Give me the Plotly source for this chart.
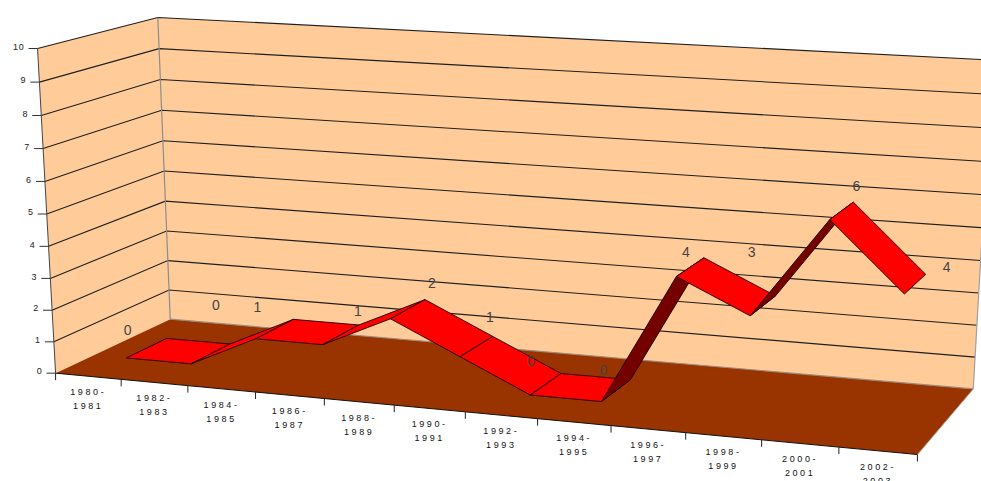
import numpy as np
import plotly.graph_objects as go

# --- data
CATEGORIES = ["1980-<br>1981", "1982-<br>1983", "1984-<br>1985", "1986-<br>1987", "1988-<br>1989", "1990-<br>1991",
              "1992-<br>1993", "1994-<br>1995", "1996-<br>1997", "1998-<br>1999", "2000-<br>2001", "2002-<br>2003"]
VALUES = [0, 0, 1, 1, 2, 1, 0, 0, 4, 3, 6, 4]
Z_TICKS = list(range(0, 11))

# --- style / view: the reference's oblique view as a projective camera
CAMERA = np.array([[64.909318, 128.750351, -1.9576222, 88.272857],
                   [3.2452104, -28.5805513, -32.7788419, 376.2420701],
                   [-0.0078395, 0.080101, -0.0038502, 1.0]])
RIBBON_FRONT, RIBBON_BACK = 0.32, 0.68
LABEL_DX = [-39, -14, -36, -1, 7, -3, -30, -27, -18, -24, 3, 21]
LABEL_DY = [-7, -38, -11, -12, -15, -18, -11, -8, -4, -42, -15, -6]
WALL, FLOOR, TOP, UNDER = "#FFCC99", "#993300", "#FF0000", "#750000"

def pr(x, y, z):
    h = CAMERA @ np.array([x, y, z, 1.0])
    return h[0] / h[2], h[1] / h[2]

def path(points):
    xy = [pr(*p) for p in points]
    return [a for a, _ in xy], [b for _, b in xy]

L, R = -0.5, len(VALUES) - 0.5
Z0, Z1 = Z_TICKS[0], Z_TICKS[-1]
fig = go.Figure()

def poly(points, fill, line=None, width=0.8):
    x, y = path(points + points[:1])
    fig.add_trace(go.Scatter(x=x, y=y, mode="lines", fill="toself", fillcolor=fill,
                             line=dict(color=line or fill, width=width if line else 0), hoverinfo="skip"))

def stroke(points, color, width=1.0):
    x, y = path(points)
    fig.add_trace(go.Scatter(x=x, y=y, mode="lines", line=dict(color=color, width=width), hoverinfo="skip"))

# walls and floor
poly([(L, 0, Z0), (L, 1, Z0), (L, 1, Z1), (L, 0, Z1)], WALL)
poly([(L, 1, Z0), (R, 1, Z0), (R, 1, Z1), (L, 1, Z1)], WALL)
poly([(L, 0, Z0), (L, 1, Z0), (R, 1, Z0), (R, 0, Z0)], FLOOR)

# grid lines
for z in Z_TICKS[1:]:
    stroke([(L, 0, z), (L, 1, z), (R, 1, z)], "#1e1e1e", 1.1)
stroke([(L, 1, Z0), (L, 1, Z1)], "#8c8c8c", 1.2)
stroke([(R, 1, Z0), (R, 1, Z1)], "#a0a0a0", 1.2)
stroke([(L, 1, Z0), (R, 1, Z0)], "#9a8a7a", 1.2)
stroke([(L, 0, Z0), (L, 0, Z1)], "#444444", 1.0)
stroke([(L, 0, Z0), (R, 0, Z0)], "#111111", 1.0)
stroke([(R, 0, Z0), (R, 1, Z0)], "#b09080", 1.0)

# axis ticks
tx, ty = [], []
for z in Z_TICKS:
    u, v = pr(L, 0, z)
    tx += [u - 9, u, None]; ty += [v, v, None]
fig.add_trace(go.Scatter(x=tx, y=ty, mode="lines", line=dict(color="#333333", width=1), hoverinfo="skip"))
tx, ty = [], []
for i in range(len(VALUES) + 1):
    u, v = pr(i - 0.5, 0, Z0)
    tx += [u, u, None]; ty += [v, v + 7, None]
fig.add_trace(go.Scatter(x=tx, y=ty, mode="lines", line=dict(color="#222222", width=1), hoverinfo="skip"))

# ribbon
for i in range(len(VALUES) - 1):
    q = [(i, RIBBON_FRONT, VALUES[i]), (i, RIBBON_BACK, VALUES[i]),
         (i + 1, RIBBON_BACK, VALUES[i + 1]), (i + 1, RIBBON_FRONT, VALUES[i + 1])]
    x, y = path(q)
    area = sum(x[k] * y[(k + 1) % 4] - x[(k + 1) % 4] * y[k] for k in range(4))
    poly(q, TOP if area > 0 else UNDER, line="#1a0000", width=0.9)

# data labels
lx, ly = [], []
for i, v in enumerate(VALUES):
    u, w = pr(i, RIBBON_BACK, v)
    lx.append(u + LABEL_DX[i]); ly.append(w + LABEL_DY[i])
fig.add_trace(go.Scatter(x=lx, y=ly, mode="text", text=[str(v) for v in VALUES], textposition="middle center",
                         textfont=dict(family="Liberation Sans", size=14, color="#444444"), hoverinfo="skip"))

# axis labels
zx, zy = [], []
for z in Z_TICKS:
    u, v = pr(L, 0, z)
    zx.append(u - 13); zy.append(v - 1)
fig.add_trace(go.Scatter(x=zx, y=zy, mode="text", text=[str(z) for z in Z_TICKS], textposition="middle left",
                         textfont=dict(family="Liberation Sans", size=9, color="#222222"), hoverinfo="skip"))
cx, cy = [], []
for i in range(len(CATEGORIES)):
    u, v = pr(i, 0, Z0)
    cx.append(u); cy.append(v + 12)
fig.add_trace(go.Scatter(x=cx, y=cy, mode="text", text=CATEGORIES, textposition="bottom center",
                         textfont=dict(family="Liberation Sans", size=9, color="#111111"), hoverinfo="skip"))

fig.update_layout(
    width=981, height=481, margin=dict(l=0, r=0, t=0, b=0), showlegend=False,
    paper_bgcolor="white", plot_bgcolor="white",
    xaxis=dict(range=[0, 981], visible=False, fixedrange=True),
    yaxis=dict(range=[481, 0], visible=False, fixedrange=True),
)

post = """
document.body.style.margin='0';
document.body.style.overflow='hidden';
function spaceLabels(){
  document.querySelectorAll('.textpoint text').forEach(function(t){
    if(t.textContent.indexOf('-')>=0){
      t.style.letterSpacing='2.6px';
      var ls=t.querySelectorAll('tspan.line');
      if(ls.length>1){ls[1].setAttribute('dy','14px');}
    } else if(t.style.fontSize==='9px'){ t.style.letterSpacing='0.8px'; }
  });
}
spaceLabels(); setTimeout(spaceLabels,50); setTimeout(spaceLabels,300);
"""
fig.write_html("out.html", post_script=post, config=dict(displayModeBar=False))
